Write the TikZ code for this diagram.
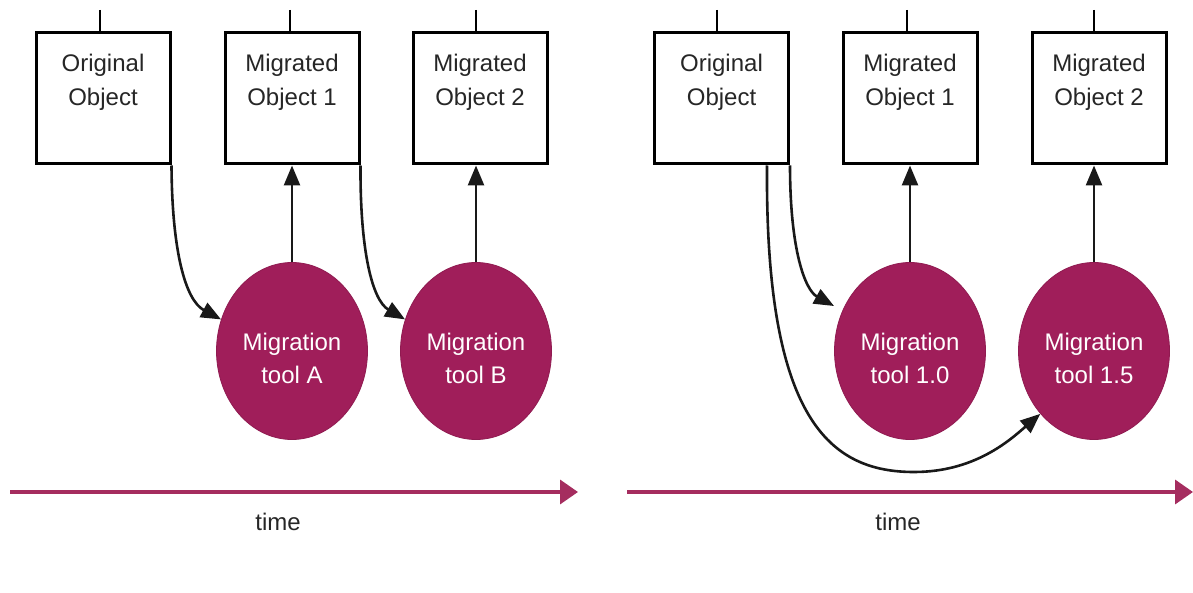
\documentclass[tikz,border=0pt]{standalone}
\usepackage{fontspec}
\setmainfont{Liberation Sans}
\usetikzlibrary{shapes.geometric,arrows.meta}
\definecolor{maroon}{RGB}{160,30,90}
\definecolor{timecol}{RGB}{165,45,95}
\begin{document}
\begin{tikzpicture}[x=1pt,y=-1pt,
  objbox/.style={draw=black,line width=3pt,fill=white,minimum width=134pt,minimum height=131pt,inner sep=0pt},
  objlbl/.style={font=\fontsize{24}{34}\selectfont,align=center,inner sep=0pt,anchor=north,text=black!85},
  tool/.style={ellipse,fill=maroon,draw=maroon!90!black,line width=0.8pt,minimum width=151pt,minimum height=177pt,inner sep=0pt},
  toollbl/.style={font=\fontsize{24}{33}\selectfont,align=center,text=white,inner sep=0pt,yshift=-7pt},
  arr/.style={line width=2.6pt,draw=black!90,-{Triangle[length=20pt,width=16pt]}},
  timearr/.style={line width=3.6pt,draw=timecol,-{Triangle[length=18pt,width=24pt]}},
  timelbl/.style={font=\fontsize{24}{30}\selectfont,text=black!85,inner sep=0pt},
  topline/.style={line width=2.8pt,draw=black}
]
\useasboundingbox (0,0) rectangle (1193,593);
% ---------- left panel ----------
\node[objbox] (o1) at (103,98.5) {};
\node[objbox] (m1) at (292,98.5) {};
\node[objbox] (m2) at (480,98.5) {};
\node[objlbl] (o1t) at ([yshift=-22pt]o1.north) {Original\\Object};
\node[objlbl] (m1t) at ([yshift=-22pt]m1.north) {Migrated\\Object 1};
\node[objlbl] (m2t) at ([yshift=-22pt]m2.north) {Migrated\\Object 2};
\coordinate (o1top) at (100,10);
\coordinate (m1top) at (290,10);
\coordinate (m2top) at (476,10);
\draw[topline] (o1top) -- (o1top |- o1.north);
\draw[topline] (m1top) -- (m1top |- m1.north);
\draw[topline] (m2top) -- (m2top |- m2.north);
\node[tool,label={[toollbl]center:Migration\\tool A}] (ta) at (292,351) {};
\node[tool,label={[toollbl]center:Migration\\tool B}] (tb) at (476,351) {};
\draw[arr] (ta.north) -- (ta.north |- m1.south);
\draw[arr] (tb.north) -- (tb.north |- m2.south);
\draw[arr] (o1.south east) .. controls (172,250) and (185,300) .. (ta.156);
\draw[arr] (m1.south east) .. controls (360,250) and (372,300) .. (tb.156);
\coordinate (la) at (10,492);
\coordinate (lb) at (578,492);
\draw[timearr] (la) -- (lb);
\node[timelbl] (lt) at (278,522) {time};
% ---------- right panel ----------
\node[objbox] (o2) at (721.5,98.5) {};
\node[objbox] (n1) at (910,98.5) {};
\node[objbox] (n2) at (1099,98.5) {};
\node[objlbl] (o2t) at ([yshift=-22pt]o2.north) {Original\\Object};
\node[objlbl] (n1t) at ([yshift=-22pt]n1.north) {Migrated\\Object 1};
\node[objlbl] (n2t) at ([yshift=-22pt]n2.north) {Migrated\\Object 2};
\coordinate (o2top) at (717,10);
\coordinate (n1top) at (907,10);
\coordinate (n2top) at (1094,10);
\draw[topline] (o2top) -- (o2top |- o2.north);
\draw[topline] (n1top) -- (n1top |- n1.north);
\draw[topline] (n2top) -- (n2top |- n2.north);
\node[tool,label={[toollbl]center:Migration\\tool 1.0}] (t10) at (910,351) {};
\node[tool,label={[toollbl]center:Migration\\tool 1.5}] (t15) at (1094,351) {};
\draw[arr] (t10.north) -- (t10.north |- n1.south);
\draw[arr] (t15.north) -- (t15.north |- n2.south);
\coordinate (shortend) at (834,306);
\draw[arr] (o2.south east) .. controls (790,250) and (805,290) .. (shortend);
\coordinate (longstart) at ([xshift=-23pt]o2.south east);
\draw[arr] (longstart) .. controls (765,420) and (830,472) .. (914,472)
  .. controls (975,472) and (1010,440) .. (t15.south west);
\coordinate (ra) at (627,492);
\coordinate (rb) at (1193,492);
\draw[timearr] (ra) -- (rb);
\node[timelbl] (rt) at (898,522) {time};
\end{tikzpicture}
\end{document}
